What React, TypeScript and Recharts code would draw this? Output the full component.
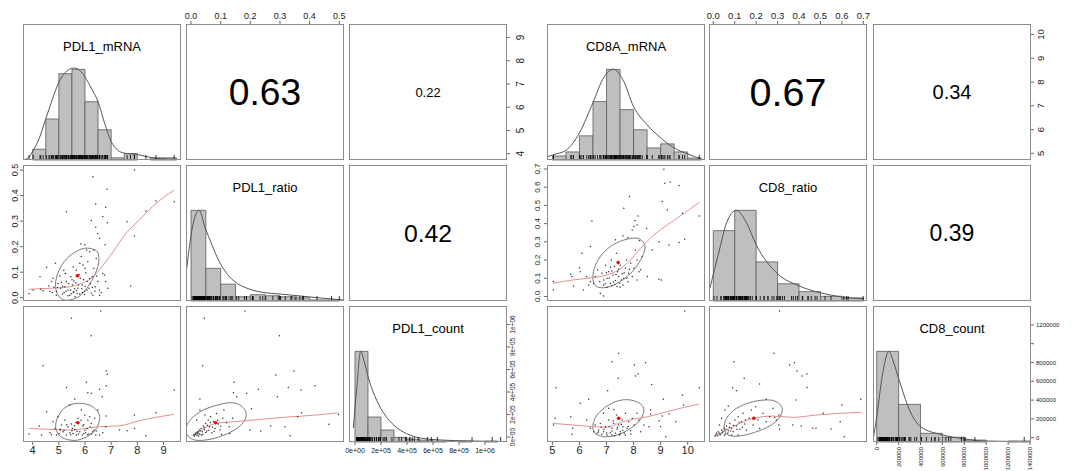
import { ComposedChart, XAxis, YAxis, Scatter, Line, ReferenceArea } from 'recharts'

const FONT = '"Liberation Sans", Arial, Helvetica, sans-serif'

type Pt = [number, number]

// ---------------- PDL1 matrix ----------------
const pdl1Names = ['PDL1_mRNA', 'PDL1_ratio', 'PDL1_count']
// upper panels: (mRNA,ratio) (mRNA,count) (ratio,count)
const pdl1Corr = [0.63, 0.22, 0.42]

const pdl1MrnaTicks = [4, 5, 6, 7, 8, 9]
const pdl1RatioTicks = [0, 0.1, 0.2, 0.3, 0.4, 0.5]
const pdl1CountTicks = [0, 200000, 400000, 600000, 800000, 1000000]

const pdl1XDomains: Pt[] = [[3.63, 9.67], [-0.017, 0.516], [-46000, 1169000]]
const pdl1YDomains: Pt[] = [[3.73, 9.58], [-0.013, 0.52], [-44000, 1164000]]

const pdl1MrnaBreaks = [4, 4.5, 5, 5.5, 6, 6.5, 7, 7.5, 8, 8.5, 9, 9.5]
const pdl1MrnaCounts = [5, 19, 40, 42, 27, 14, 1, 3, 0, 1, 1]
const pdl1MrnaDensity: Pt[] = [
  [3.72, 0.3], [3.85, 1.2], [4.0, 4], [4.25, 10], [4.5, 19], [4.75, 28], [5.0, 36], [5.25, 40.5],
  [5.45, 42.3], [5.6, 42.6], [5.8, 41.5], [6.0, 38.5], [6.25, 33], [6.5, 27], [6.75, 17], [7.0, 8.6],
  [7.25, 4.5], [7.5, 3.2], [7.75, 2.8], [8.0, 2.5], [8.35, 1.6], [8.7, 0.8], [9.1, 0.5], [9.5, 0.3],
]

const pdl1RatioBreaks = [0, 0.05, 0.1, 0.15, 0.2, 0.25, 0.3, 0.35, 0.4, 0.45, 0.5]
const pdl1RatioCounts = [86, 31, 16, 4, 6, 5, 4, 3, 1, 1]
const pdl1RatioDensity: Pt[] = [
  [-0.0146, 31], [0.006, 72], [0.0275, 86], [0.047, 70], [0.071, 53], [0.094, 38], [0.121, 26],
  [0.1445, 19], [0.195, 11.5], [0.246, 8], [0.297, 6.7], [0.367, 4.8], [0.435, 2.9], [0.512, 1],
]

const pdl1CountBreaks = [0, 100000, 200000, 300000, 400000, 500000, 600000, 700000, 800000, 900000, 1000000, 1100000, 1200000]
const pdl1CountCounts = [98, 27, 13, 5, 3, 2, 1, 0, 1, 0, 1, 1]
const pdl1CountDensity: Pt[] = [
  [-13000, 15], [11500, 55], [44000, 98], [73000, 86], [102000, 70], [167000, 45], [200000, 36],
  [300000, 18], [398000, 9], [500000, 4.4], [654000, 2.2], [885000, 1.1], [1115000, 0.5],
]

const pdl1MrnaRatioPts: Pt[] = [
  [7.89, 0.5], [6.3, 0.474], [6.84, 0.425], [5.29, 0.337], [8.33, 0.34], [8.71, 0.379], [9.41, 0.376],
  [6.41, 0.367], [6.79, 0.354], [6.68, 0.318], [6.24, 0.302], [6.85, 0.294], [7.61, 0.298], [6.41, 0.276],
  [6.49, 0.252], [6.56, 0.233], [7.89, 0.242], [5.84, 0.21], [5.99, 0.207], [6.77, 0.207], [6.34, 0.187],
  [4.87, 0.135], [4.53, 0.119], [4.28, 0.082], [4.78, 0.076], [7.74, 0.046], [3.86, 0.015], [6.75, 0.089],
  [6.79, 0.063], [6.56, 0.03], [4.02, 0.03], [4.31, 0.033], [4.4, 0.027], [4.62, 0.046], [4.66, 0.024],
  [4.72, 0.063], [4.81, 0.041], [4.91, 0.024], [4.97, 0.056], [5.04, 0.085], [5.07, 0.037], [5.14, 0.014],
  [5.19, 0.108], [5.23, 0.043], [5.29, 0.063], [5.35, 0.03], [5.42, 0.01], [5.46, 0.082], [5.52, 0.05],
  [5.57, 0.024], [5.65, 0.059], [5.67, 0.108], [5.73, 0.037], [5.8, 0.014], [5.82, 0.076], [5.86, 0.161],
  [5.9, 0.05], [5.92, 0.128], [5.99, 0.024], [6.03, 0.098], [6.08, 0.063], [6.11, 0.141], [6.15, 0.037],
  [6.18, 0.18], [6.24, 0.017], [6.28, 0.082], [6.34, 0.115], [6.39, 0.043], [6.43, 0.154], [6.49, 0.063],
  [6.56, 0.01], [6.62, 0.02], [6.68, 0.095], [6.87, 0.037], [5.35, 0.008], [5.62, 0.004], [6.06, 0.187],
  [5.45, 0.03], [5.55, 0.02], [5.7, 0.015], [5.9, 0.02], [6.0, 0.045], [5.2, 0.02], [5.6, 0.035],
  [5.75, 0.05], [6.2, 0.055], [5.1, 0.06], [4.9, 0.01], [6.3, 0.01], [5.95, 0.07], [5.5, 0.07],
  [5.15, 0.045], [5.28, 0.025], [5.38, 0.055], [5.48, 0.015], [5.58, 0.065], [5.68, 0.028], [5.78, 0.09],
  [5.88, 0.035], [5.98, 0.012], [6.08, 0.03], [6.18, 0.075], [6.28, 0.04], [6.38, 0.025], [6.45, 0.085],
  [5.25, 0.095], [5.55, 0.12], [5.8, 0.135], [6.0, 0.115], [4.75, 0.02], [4.95, 0.04],
]
const pdl1MrnaRatioMean: Pt = [5.71, 0.086]
const pdl1MrnaRatioEllipse: Pt[] = [
  [6.24, 0.192], [6.47, 0.18], [6.53, 0.154], [6.49, 0.122], [6.34, 0.082], [6.11, 0.043], [5.8, 0.007],
  [5.42, -0.009], [5.1, -0.005], [4.91, 0.024], [4.88, 0.063], [5.01, 0.108], [5.29, 0.152], [5.65, 0.18], [5.95, 0.193],
]
const pdl1MrnaRatioLoess: Pt[] = [
  [3.86, 0.033], [4.66, 0.037], [5.29, 0.041], [5.86, 0.056], [6.24, 0.076], [6.43, 0.095], [6.94, 0.161],
  [7.57, 0.252], [8.08, 0.305], [8.58, 0.357], [9.41, 0.422],
]

const pdl1MrnaCountPts: Pt[] = [
  [6.6, 1120000], [5.48, 1055000], [6.24, 900000], [4.4, 634000], [6.81, 587000], [6.85, 557000],
  [6.05, 486000], [5.29, 441000], [6.81, 456000], [6.11, 394000], [6.24, 388000], [6.56, 424000],
  [6.66, 359000], [5.61, 338000], [9.41, 418000], [8.71, 216000], [7.89, 196000], [5.42, 284000],
  [4.53, 225000], [6.81, 187000], [6.79, 92000], [7.32, 62000], [7.61, 56000], [7.89, 77000],
  [8.33, 12000], [3.86, 27000], [4.25, 98000], [4.34, 18000], [6.43, 53000], [4.66, 38500],
  [4.78, 136000], [4.85, 77000], [4.97, 181000], [5.01, 32600], [5.1, 107000], [5.16, 47000],
  [5.23, 151000], [5.29, 17800], [5.35, 92000], [5.42, 38500], [5.48, 116000], [5.54, 32600],
  [5.61, 68000], [5.67, 17800], [5.73, 166000], [5.8, 47000], [5.86, 240000], [5.9, 17800],
  [5.92, 98000], [5.99, 196000], [6.03, 38500], [6.08, 77000], [6.15, 27000], [6.18, 181000],
  [6.24, 121000], [6.3, 47000], [6.37, 166000], [6.41, 17800], [6.49, 240000], [4.91, 17800],
  [5.06, 62000], [5.52, 77000], [5.75, 27000], [5.95, 32600], [6.11, 151000], [4.72, 20700],
  [6.56, 17800], [6.68, 38500], [5.2, 60000], [5.3, 110000], [5.45, 20000], [5.6, 100000],
  [5.7, 50000], [5.85, 150000], [6.0, 60000], [6.1, 20000], [6.2, 90000], [6.35, 60000],
  [5.5, 55000], [5.65, 130000], [5.95, 110000], [6.25, 30000], [5.05, 70000],
]
const pdl1MrnaCountMean: Pt = [5.73, 127000]
const pdl1MrnaCountEllipse: Pt[] = [
  [5.86, 299000], [6.24, 276000], [6.49, 225000], [6.56, 166000], [6.46, 86000], [6.18, 17800],
  [5.73, -26700], [5.29, -20700], [5.01, 17800], [4.88, 86000], [4.94, 166000], [5.14, 240000], [5.44, 287000],
]
const pdl1MrnaCountLoess: Pt[] = [
  [3.86, 77000], [4.66, 68000], [5.42, 62000], [6.05, 77000], [6.56, 92000], [7.32, 100000],
  [8.08, 145000], [8.84, 181000], [9.41, 201000],
]

const pdl1RatioCountPts: Pt[] = [
  [0.182, 1120000], [0.045, 1055000], [0.298, 900000], [0.039, 634000], [0.286, 551000], [0.347, 587000],
  [0.145, 486000], [0.227, 424000], [0.328, 441000], [0.371, 418000], [0.418, 456000], [0.188, 388000],
  [0.143, 394000], [0.154, 359000], [0.291, 359000], [0.03, 338000], [0.204, 252000], [0.373, 216000],
  [0.36, 181000], [0.465, 113000], [0.497, 201000], [0.269, 98000], [0.317, 92000], [0.334, 12000],
  [0.199, 62000], [0.235, 53000], [0.131, 32600], [0.103, 23700], [0.008, 17800], [0.013, 26700],
  [0.017, 38500], [0.021, 32600], [0.025, 47400], [0.028, 62200], [0.03, 23700], [0.034, 77000],
  [0.038, 47400], [0.041, 98000], [0.045, 68100], [0.049, 121000], [0.053, 53300], [0.058, 151000],
  [0.062, 92000], [0.066, 181000], [0.07, 38500], [0.075, 136000], [0.081, 77000], [0.086, 210000],
  [0.092, 116000], [0.098, 62200], [0.107, 166000], [0.111, 240000], [0.12, 127000], [0.129, 92000],
  [0.14, 166000], [0.03, 240000], [0.047, 196000], [0.019, 151000], [0.011, 8900], [0.025, 8900],
  [0.036, 17800], [0.015, 20000], [0.02, 15000], [0.022, 45000], [0.027, 30000], [0.032, 55000],
  [0.04, 25000], [0.044, 85000], [0.05, 40000], [0.055, 105000], [0.06, 60000], [0.065, 130000],
  [0.072, 90000], [0.078, 50000], [0.09, 150000], [0.1, 95000],
]
const pdl1RatioCountMean: Pt = [0.083, 127000]
const pdl1RatioCountEllipse: Pt[] = [
  [0.165, 284000], [0.185, 225000], [0.182, 151000], [0.159, 86000], [0.12, 26700], [0.064, -20700],
  [0.013, -26700], [-0.0125, 17800], [-0.015, 92000], [0.002, 166000], [0.041, 240000], [0.098, 290000], [0.137, 305000],
]
const pdl1RatioCountLoess: Pt[] = [
  [0.008, 17800], [0.03, 53000], [0.053, 92000], [0.086, 121000], [0.143, 136000], [0.21, 151000],
  [0.311, 175000], [0.424, 196000], [0.497, 216000],
]

// ---------------- CD8 matrix ----------------
const cd8Names = ['CD8A_mRNA', 'CD8_ratio', 'CD8_count']
const cd8Corr = [0.67, 0.34, 0.39]

const cd8MrnaTicks = [5, 6, 7, 8, 9, 10]
const cd8RatioTicks = [0, 0.1, 0.2, 0.3, 0.4, 0.5, 0.6, 0.7]
const cd8CountXTicks = [0, 200000, 400000, 600000, 800000, 1000000, 1200000, 1400000]
const cd8CountYTicks = [0, 200000, 400000, 600000, 800000, 1000000, 1200000]

const cd8XDomains: Pt[] = [[4.8, 10.64], [-0.02, 0.717], [-34000, 1409000]]
const cd8YDomains: Pt[] = [[4.72, 10.44], [-0.025, 0.722], [-46000, 1401000]]

const cd8MrnaBreaks = [5, 5.5, 6, 6.5, 7, 7.5, 8, 8.5, 9, 9.5, 10, 10.5]
const cd8MrnaCounts = [2, 4, 12, 29, 45, 25, 15, 6, 8, 4, 1]
const cd8MrnaDensity: Pt[] = [
  [4.8, 1.5], [5.0, 2.5], [5.5, 4.8], [6.0, 13.5], [6.5, 28.5], [6.9, 41], [7.25, 45], [7.6, 40],
  [8.0, 26.5], [8.5, 17.5], [9.0, 11], [9.5, 6], [10.0, 3], [10.5, 0.5],
]

const cd8RatioBreaks = [0, 0.1, 0.2, 0.3, 0.4, 0.5, 0.6, 0.7]
const cd8RatioCounts = [45, 58, 25, 11, 6, 3, 2]
const cd8RatioDensity: Pt[] = [
  [-0.0154, 8.4], [0.031, 34], [0.062, 50], [0.108, 58], [0.155, 50], [0.2, 36], [0.3, 17.4],
  [0.4, 9.7], [0.5, 5.2], [0.6, 2.6], [0.7, 1.3],
]

const cd8CountBreaks = [0, 200000, 400000, 600000, 800000, 1000000, 1200000, 1400000]
const cd8CountCounts = [94, 39, 9, 5, 2, 0, 1]
const cd8CountDensity: Pt[] = [
  [-34000, 2], [0, 26], [50000, 68], [112000, 94], [150000, 84], [200000, 66], [300000, 33],
  [400000, 16], [600000, 7.4], [800000, 3.2], [1000000, 1], [1400000, 0.5],
]

const cd8MrnaRatioPts: Pt[] = [
  [9.12, 0.699], [9.16, 0.622], [9.35, 0.629], [9.68, 0.609], [7.85, 0.549], [9.06, 0.521], [7.64, 0.484],
  [9.25, 0.475], [9.81, 0.457], [10.43, 0.442], [6.46, 0.415], [8.17, 0.442], [8.05, 0.417], [8.13, 0.393],
  [8.01, 0.384], [7.95, 0.365], [8.48, 0.373], [7.33, 0.311], [7.61, 0.332], [7.79, 0.323], [8.22, 0.307],
  [8.94, 0.301], [9.31, 0.283], [9.89, 0.314], [9.68, 0.296], [8.69, 0.255], [6.4, 0.274], [6.09, 0.237],
  [6.0, 0.158], [5.68, 0.122], [5.72, 0.109], [5.04, 0.082], [5.04, 0.036], [5.78, 0.058], [6.15, 0.036],
  [8.94, 0.094], [9.03, 0.091], [8.51, 0.109], [8.26, 0.146], [8.13, 0.091], [6.77, 0.017], [6.89, 0.003],
  [6.58, 0.109], [6.67, 0.146], [6.75, 0.082], [6.83, 0.127], [6.89, 0.063], [6.96, 0.172], [7.02, 0.1],
  [7.08, 0.136], [7.14, 0.072], [7.18, 0.2], [7.24, 0.118], [7.29, 0.164], [7.33, 0.087], [7.37, 0.237],
  [7.41, 0.136], [7.45, 0.109], [7.49, 0.072], [7.51, 0.172], [7.58, 0.124], [7.64, 0.1], [7.7, 0.155],
  [7.74, 0.2], [7.79, 0.081], [7.82, 0.127], [7.89, 0.182], [7.95, 0.109], [8.01, 0.155], [8.07, 0.255],
  [8.13, 0.2], [8.2, 0.136], [8.32, 0.219], [7.2, 0.058], [7.39, 0.054], [7.61, 0.063], [7.02, 0.05],
  [6.4, 0.082], [6.27, 0.109], [6.52, 0.072], [6.03, 0.136], [6.34, 0.063], [6.9, 0.09], [7.0, 0.13],
  [7.1, 0.1], [7.15, 0.16], [7.25, 0.08], [7.35, 0.12], [7.45, 0.15], [7.55, 0.09], [7.65, 0.13],
  [7.75, 0.1], [7.3, 0.065], [7.5, 0.05], [6.95, 0.07], [7.85, 0.15], [7.2, 0.14],
]
const cd8MrnaRatioMean: Pt = [7.43, 0.186]
const cd8MrnaRatioEllipse: Pt[] = [
  [8.13, 0.32], [8.38, 0.292], [8.41, 0.255], [8.26, 0.201], [7.95, 0.136], [7.51, 0.082], [7.02, 0.05],
  [6.65, 0.054], [6.5, 0.091], [6.55, 0.155], [6.77, 0.219], [7.14, 0.274], [7.64, 0.31],
]
const cd8MrnaRatioLoess: Pt[] = [
  [5.01, 0.072], [5.78, 0.091], [6.58, 0.105], [7.02, 0.118], [7.45, 0.146], [7.82, 0.191], [8.26, 0.265],
  [8.75, 0.338], [9.25, 0.393], [9.87, 0.457], [10.43, 0.517],
]

const cd8MrnaCountPts: Pt[] = [
  [9.89, 1347000], [7.45, 897000], [7.2, 808000], [8.03, 773000], [8.44, 798000], [8.17, 677000],
  [8.07, 656000], [7.43, 631000], [8.67, 567000], [5.13, 532000], [10.43, 532000], [7.04, 500000],
  [9.1, 408000], [9.81, 454000], [6.34, 408000], [6.03, 365000], [9.85, 347000], [7.27, 301000],
  [5.68, 223000], [5.1, 206000], [5.04, 135000], [5.75, 99000], [5.72, 35500], [8.63, 294000],
  [8.63, 252000], [9.06, 230000], [9.31, 252000], [9.56, 170000], [9.0, 117000], [9.19, 10600],
  [8.94, 181000], [8.57, 117000], [6.27, 188000], [6.4, 99000], [6.52, 64000], [6.58, 135000],
  [6.65, 46000], [6.71, 82000], [6.77, 152000], [6.83, 35500], [6.89, 64000], [6.96, 117000],
  [7.02, 28400], [7.08, 188000], [7.14, 53200], [7.2, 99000], [7.27, 152000], [7.33, 46000],
  [7.37, 241000], [7.39, 88600], [7.45, 135000], [7.51, 64000], [7.58, 188000], [7.61, 117000],
  [7.66, 46000], [7.7, 259000], [7.76, 99000], [7.82, 170000], [7.89, 74500], [7.95, 206000],
  [8.01, 135000], [8.13, 259000], [8.2, 188000], [8.26, 64000], [8.38, 135000], [7.08, 312000],
  [6.89, 259000], [7.2, 28400], [7.48, 28400], [6.9, 90000], [7.0, 50000], [7.1, 120000],
  [7.2, 70000], [7.3, 20000], [7.4, 110000], [7.5, 40000], [7.6, 80000], [7.7, 25000],
  [7.8, 120000], [6.8, 110000], [7.25, 180000], [7.55, 140000], [6.7, 60000], [7.9, 40000],
]
const cd8MrnaCountMean: Pt = [7.45, 206000]
const cd8MrnaCountEllipse: Pt[] = [
  [7.89, 401000], [8.26, 358000], [8.38, 294000], [8.26, 195000], [7.89, 99300], [7.39, 28400],
  [6.89, 10600], [6.56, 53200], [6.5, 135000], [6.65, 241000], [7.02, 337000], [7.45, 394000],
]
const cd8MrnaCountLoess: Pt[] = [
  [5.01, 152000], [5.78, 135000], [6.52, 117000], [7.02, 110000], [7.51, 160000], [8.01, 199000],
  [8.51, 223000], [9.25, 277000], [9.87, 323000], [10.43, 358000],
]

const cd8RatioCountPts: Pt[] = [
  [0.309, 1347000], [0.283, 897000], [0.097, 808000], [0.356, 773000], [0.379, 798000], [0.144, 631000],
  [0.391, 709000], [0.437, 677000], [0.414, 656000], [0.216, 571000], [0.09, 532000], [0.108, 500000],
  [0.437, 535000], [0.688, 408000], [0.386, 401000], [0.247, 408000], [0.6, 347000], [0.592, 170000],
  [0.513, 259000], [0.371, 135000], [0.41, 124000], [0.464, 99300], [0.479, 99300], [0.549, 92200],
  [0.611, 10600], [0.306, 135000], [0.309, 88600], [0.306, 241000], [0.286, 216000], [0.008, 17700],
  [0.016, 46100], [0.023, 63800], [0.031, 28400], [0.039, 81600], [0.043, 53200], [0.05, 99300],
  [0.056, 39000], [0.062, 124000], [0.07, 74500], [0.077, 152000], [0.085, 99300], [0.093, 63800],
  [0.101, 188000], [0.108, 124000], [0.116, 223000], [0.124, 88600], [0.131, 170000], [0.139, 259000],
  [0.147, 145000], [0.155, 81600], [0.167, 206000], [0.178, 294000], [0.186, 135000], [0.198, 330000],
  [0.209, 188000], [0.216, 99300], [0.232, 259000], [0.247, 170000], [0.263, 223000], [0.278, 312000],
  [0.294, 188000], [0.054, 294000], [0.07, 337000], [0.039, 206000], [0.028, 135000], [0.116, 28400],
  [0.085, 28400], [0.012, 30000], [0.02, 20000], [0.027, 50000], [0.035, 40000], [0.045, 70000],
  [0.052, 25000], [0.06, 90000], [0.068, 50000], [0.075, 110000], [0.082, 70000], [0.095, 130000],
  [0.11, 90000], [0.12, 160000], [0.135, 110000], [0.15, 190000],
]
const cd8RatioCountMean: Pt = [0.189, 206000]
const cd8RatioCountEllipse: Pt[] = [
  [0.263, 401000], [0.306, 365000], [0.322, 294000], [0.306, 206000], [0.263, 124000], [0.193, 56700],
  [0.121, 17700], [0.07, 28400], [0.051, 99300], [0.062, 206000], [0.108, 312000], [0.186, 383000],
]
const cd8RatioCountLoess: Pt[] = [
  [0.008, 17700], [0.062, 81600], [0.124, 152000], [0.186, 206000], [0.278, 230000], [0.371, 216000],
  [0.479, 241000], [0.587, 259000], [0.688, 270000],
]

// ---------------- layout ----------------
const PW = 158
const PH = 136
const ROWS = [24, 165, 306]
const LEFT_COLS = [23, 186, 349]
const RIGHT_COLS = [547, 709, 873]

type Side = 'top' | 'bottom' | 'left' | 'right'
type AxisSpec = {
  side: Side
  ticks: number[]
  fmt: (v: number) => string
  size: number
  mode: 'flat' | 'rot' | 'rotEnd'
  gap: number
  skip?: number[]
}

const xy = (a: Pt[]) => a.map(([x, y]) => ({ x, y }))
const f0 = (v: number) => String(v)
const f1 = (v: number) => v.toFixed(1)
const sci = (v: number) =>
  v.toExponential(0).replace(/e([+-])(\d)$/, (_m, s, d) => `e${s}0${d}`)

// closed smooth curve for the correlation ellipses
const closedSmooth = (context: any) => {
  let pts: number[][] = []
  return {
    areaStart() {},
    areaEnd() {},
    lineStart() {
      pts = []
    },
    point(x: number, y: number) {
      pts.push([x, y])
    },
    lineEnd() {
      const n = pts.length
      if (!n) return
      context.moveTo(pts[0][0], pts[0][1])
      for (let i = 0; i < n; i++) {
        const p0 = pts[(i - 1 + n) % n]
        const p1 = pts[i]
        const p2 = pts[(i + 1) % n]
        const p3 = pts[(i + 2) % n]
        context.bezierCurveTo(
          p1[0] + (p2[0] - p0[0]) / 6,
          p1[1] + (p2[1] - p0[1]) / 6,
          p2[0] - (p3[0] - p1[0]) / 6,
          p2[1] - (p3[1] - p1[1]) / 6,
          p2[0],
          p2[1],
        )
      }
      context.closePath()
    },
  }
}

const tickRenderer = (a: AxisSpec) => (p: any) => {
  const v = p.payload.value
  const label = a.skip && a.skip.includes(v) ? '' : a.fmt(v)
  const st = { fontSize: a.size, fill: '#222', fontFamily: FONT }
  const { x, y } = p
  if (a.side === 'top')
    return (
      <text x={x} y={y - a.gap} textAnchor="middle" {...st}>
        {label}
      </text>
    )
  if (a.side === 'bottom') {
    if (a.mode === 'rotEnd')
      return (
        <text transform={`translate(${x},${y + a.gap}) rotate(-90)`} textAnchor="end" dy="0.35em" {...st}>
          {label}
        </text>
      )
    return (
      <text x={x} y={y + a.gap} dy="0.71em" textAnchor="middle" {...st}>
        {label}
      </text>
    )
  }
  const cx = a.side === 'left' ? x - a.gap : x + a.gap
  if (a.mode === 'rot')
    return (
      <text transform={`translate(${cx},${y}) rotate(-90)`} textAnchor="middle" dy="0.35em" {...st}>
        {label}
      </text>
    )
  return (
    <text x={cx} y={y} dy="0.35em" textAnchor={a.side === 'left' ? 'end' : 'start'} {...st}>
      {label}
    </text>
  )
}

const Dot = (p: any) => <circle cx={p.cx} cy={p.cy} r={0.75} fill="#333" />
const MeanDot = (p: any) => <circle cx={p.cx} cy={p.cy} r={1.8} fill="#ff0000" />
const RugTick = (p: any) => (
  <line x1={p.cx} x2={p.cx} y1={p.cy} y2={p.cy - 5} stroke="#000" strokeWidth={0.8} />
)
const corrShape = (r: number) => (p: any) => (
  <text x={p.cx} y={p.cy} dy="0.36em" textAnchor="middle" fontSize={59 * r} fontFamily={FONT} fill="#000">
    {r.toFixed(2)}
  </text>
)

type PanelProps = {
  left: number
  top: number
  xDom: Pt
  yDom: Pt
  axes?: AxisSpec[]
  children?: any
}

function Panel({ left, top, xDom, yDom, axes = [], children }: PanelProps) {
  const find = (s: Side) => axes.find((a) => a.side === s)
  const xa = find('top') || find('bottom')
  const ya = find('left') || find('right')
  const lW = find('left') ? 30 : 0
  const rW = find('right') ? 30 : 0
  const tH = find('top') ? 24 : 0
  const bH = find('bottom') ? 30 : 0
  return (
    <div style={{ position: 'absolute', left: left - lW, top: top - tH }}>
      <ComposedChart width={PW + lW + rW} height={PH + tH + bH} margin={{ top: 0, right: 0, bottom: 0, left: 0 }}>
        <XAxis
          type="number"
          dataKey="x"
          domain={xDom}
          allowDataOverflow
          hide={!xa}
          orientation={xa ? (xa.side as any) : 'bottom'}
          height={xa ? (xa.side === 'top' ? tH : bH) : 0}
          ticks={xa ? xa.ticks : undefined}
          interval={0}
          tickSize={3}
          tickMargin={0}
          axisLine={false}
          tickLine={{ stroke: '#666' }}
          tick={xa ? tickRenderer(xa) : false}
        />
        <YAxis
          type="number"
          dataKey="y"
          domain={yDom}
          allowDataOverflow
          hide={!ya}
          orientation={ya ? (ya.side as any) : 'left'}
          width={ya ? (ya.side === 'left' ? lW : rW) : 0}
          ticks={ya ? ya.ticks : undefined}
          interval={0}
          tickSize={3}
          tickMargin={0}
          axisLine={false}
          tickLine={{ stroke: '#666' }}
          tick={ya ? tickRenderer(ya) : false}
        />
        {children}
      </ComposedChart>
      <div
        style={{
          position: 'absolute',
          left: lW,
          top: tH,
          width: PW,
          height: PH,
          border: '1px solid #8c8c8c',
          boxSizing: 'border-box',
          pointerEvents: 'none',
        }}
      />
    </div>
  )
}

type Hist = { breaks: number[]; counts: number[]; dens: Pt[]; rug: number[] }
type Scat = { pts: Pt[]; mean: Pt; ellipse: Pt[]; loess: Pt[] }

type MatrixProps = {
  cols: number[]
  names: string[]
  xDoms: Pt[]
  yDoms: Pt[]
  hists: Hist[]
  scatters: Record<string, Scat>
  corr: Record<string, number>
  axes: Record<string, AxisSpec[]>
}

function Matrix({ cols, names, xDoms, yDoms, hists, scatters, corr, axes }: MatrixProps) {
  const panels: any[] = []
  for (let r = 0; r < 3; r++) {
    for (let c = 0; c < 3; c++) {
      const key = `${r}${c}`
      const common = { left: cols[c], top: ROWS[r], xDom: xDoms[c], yDom: yDoms[r], axes: axes[key] || [] }
      if (r === c) {
        const h = hists[r]
        const top = Math.max(...h.counts) * 1.5
        panels.push(
          <Panel key={key} {...common}>
            <YAxis yAxisId="h" type="number" dataKey="y" domain={[0, top]} allowDataOverflow hide />
            {h.counts.map((n, i) =>
              n > 0 ? (
                <ReferenceArea
                  key={i}
                  yAxisId="h"
                  x1={h.breaks[i]}
                  x2={h.breaks[i + 1]}
                  y1={0}
                  y2={n}
                  fill="#bfbfbf"
                  fillOpacity={1}
                  stroke="#5a5a5a"
                  strokeWidth={0.8}
                />
              ) : null,
            )}
            <Line
              yAxisId="h"
              data={xy(h.dens)}
              dataKey="y"
              type="monotone"
              stroke="#555"
              strokeWidth={1}
              dot={false}
              isAnimationActive={false}
            />
            <Scatter
              yAxisId="h"
              data={h.rug.map((v) => ({ x: v, y: 0 }))}
              shape={RugTick}
              isAnimationActive={false}
            />
          </Panel>,
        )
      } else if (r > c) {
        const s = scatters[key]
        panels.push(
          <Panel key={key} {...common}>
            <Scatter data={xy(s.pts)} shape={Dot} isAnimationActive={false} />
            <Line
              data={xy(s.ellipse)}
              dataKey="y"
              type={closedSmooth as any}
              stroke="#7a7a7a"
              strokeWidth={1}
              dot={false}
              isAnimationActive={false}
            />
            <Line
              data={xy(s.loess)}
              dataKey="y"
              type="monotone"
              stroke="#e39090"
              strokeWidth={1}
              dot={false}
              isAnimationActive={false}
            />
            <Scatter data={xy([s.mean])} shape={MeanDot} isAnimationActive={false} />
          </Panel>,
        )
      } else {
        const v = corr[key]
        const center = { x: (xDoms[c][0] + xDoms[c][1]) / 2, y: (yDoms[r][0] + yDoms[r][1]) / 2 }
        panels.push(
          <Panel key={key} {...common}>
            <Scatter data={[center]} shape={corrShape(v)} isAnimationActive={false} />
          </Panel>,
        )
      }
    }
  }
  return (
    <>
      {panels}
      {names.map((n, i) => (
        <div
          key={n}
          style={{
            position: 'absolute',
            left: cols[i],
            top: ROWS[i] + 13,
            width: PW,
            lineHeight: '20px',
            textAlign: 'center',
            fontSize: 13,
            fontFamily: FONT,
            color: '#000',
          }}
        >
          {n}
        </div>
      ))}
    </>
  )
}

export default function App() {
  const pdl1Hists: Hist[] = [
    { breaks: pdl1MrnaBreaks, counts: pdl1MrnaCounts, dens: pdl1MrnaDensity, rug: pdl1MrnaRatioPts.map((p) => p[0]) },
    { breaks: pdl1RatioBreaks, counts: pdl1RatioCounts, dens: pdl1RatioDensity, rug: pdl1MrnaRatioPts.map((p) => p[1]) },
    { breaks: pdl1CountBreaks, counts: pdl1CountCounts, dens: pdl1CountDensity, rug: pdl1MrnaCountPts.map((p) => p[1]) },
  ]
  const cd8Hists: Hist[] = [
    { breaks: cd8MrnaBreaks, counts: cd8MrnaCounts, dens: cd8MrnaDensity, rug: cd8MrnaRatioPts.map((p) => p[0]) },
    { breaks: cd8RatioBreaks, counts: cd8RatioCounts, dens: cd8RatioDensity, rug: cd8MrnaRatioPts.map((p) => p[1]) },
    { breaks: cd8CountBreaks, counts: cd8CountCounts, dens: cd8CountDensity, rug: cd8MrnaCountPts.map((p) => p[1]) },
  ]

  const pdl1Axes: Record<string, AxisSpec[]> = {
    '01': [{ side: 'top', ticks: pdl1RatioTicks, fmt: f1, size: 9, mode: 'flat', gap: 2 }],
    '02': [{ side: 'right', ticks: pdl1MrnaTicks, fmt: f0, size: 10, mode: 'rot', gap: 10 }],
    '10': [{ side: 'left', ticks: pdl1RatioTicks, fmt: f1, size: 9, mode: 'rot', gap: 5 }],
    '20': [{ side: 'bottom', ticks: pdl1MrnaTicks, fmt: f0, size: 11, mode: 'flat', gap: 1 }],
    '22': [
      { side: 'bottom', ticks: pdl1CountTicks, fmt: sci, size: 7, mode: 'flat', gap: 3 },
      { side: 'right', ticks: pdl1CountTicks, fmt: sci, size: 6.5, mode: 'rot', gap: 3 },
    ],
  }
  const cd8Axes: Record<string, AxisSpec[]> = {
    '01': [{ side: 'top', ticks: cd8RatioTicks, fmt: f1, size: 9.5, mode: 'flat', gap: 2 }],
    '02': [{ side: 'right', ticks: cd8MrnaTicks, fmt: f0, size: 9.5, mode: 'rot', gap: 7 }],
    '10': [{ side: 'left', ticks: cd8RatioTicks, fmt: f1, size: 8, mode: 'rot', gap: 7 }],
    '20': [{ side: 'bottom', ticks: cd8MrnaTicks, fmt: f0, size: 11, mode: 'flat', gap: 1 }],
    '22': [
      { side: 'bottom', ticks: cd8CountXTicks, fmt: f0, size: 6, mode: 'rotEnd', gap: 2 },
      { side: 'right', ticks: cd8CountYTicks, fmt: f0, size: 6, mode: 'flat', gap: 2, skip: [1000000] },
    ],
  }

  return (
    <div
      style={{
        position: 'absolute',
        left: 0,
        top: 0,
        width: 1073,
        height: 471,
        background: '#fff',
        overflow: 'hidden',
        fontFamily: FONT,
      }}
    >
      <style>{'.recharts-surface{overflow:visible}'}</style>
      <Matrix
        cols={LEFT_COLS}
        names={pdl1Names}
        xDoms={pdl1XDomains}
        yDoms={pdl1YDomains}
        hists={pdl1Hists}
        scatters={{
          '10': { pts: pdl1MrnaRatioPts, mean: pdl1MrnaRatioMean, ellipse: pdl1MrnaRatioEllipse, loess: pdl1MrnaRatioLoess },
          '20': { pts: pdl1MrnaCountPts, mean: pdl1MrnaCountMean, ellipse: pdl1MrnaCountEllipse, loess: pdl1MrnaCountLoess },
          '21': { pts: pdl1RatioCountPts, mean: pdl1RatioCountMean, ellipse: pdl1RatioCountEllipse, loess: pdl1RatioCountLoess },
        }}
        corr={{ '01': pdl1Corr[0], '02': pdl1Corr[1], '12': pdl1Corr[2] }}
        axes={pdl1Axes}
      />
      <Matrix
        cols={RIGHT_COLS}
        names={cd8Names}
        xDoms={cd8XDomains}
        yDoms={cd8YDomains}
        hists={cd8Hists}
        scatters={{
          '10': { pts: cd8MrnaRatioPts, mean: cd8MrnaRatioMean, ellipse: cd8MrnaRatioEllipse, loess: cd8MrnaRatioLoess },
          '20': { pts: cd8MrnaCountPts, mean: cd8MrnaCountMean, ellipse: cd8MrnaCountEllipse, loess: cd8MrnaCountLoess },
          '21': { pts: cd8RatioCountPts, mean: cd8RatioCountMean, ellipse: cd8RatioCountEllipse, loess: cd8RatioCountLoess },
        }}
        corr={{ '01': cd8Corr[0], '02': cd8Corr[1], '12': cd8Corr[2] }}
        axes={cd8Axes}
      />
    </div>
  )
}
